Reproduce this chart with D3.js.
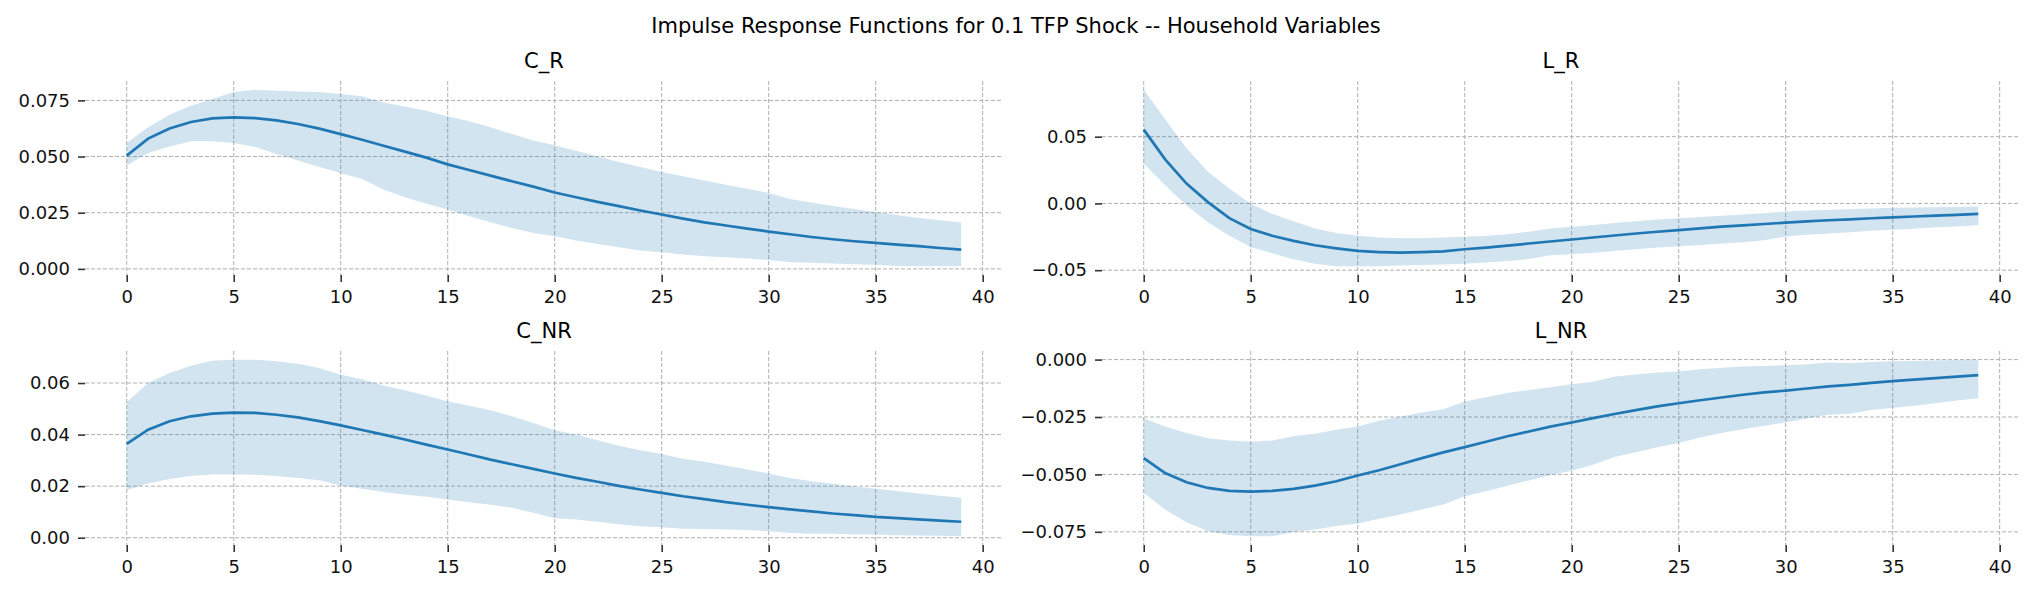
<!DOCTYPE html>
<html>
<head>
<meta charset="utf-8">
<script src="https://cdn.jsdelivr.net/npm/d3@7"></script>
<style>
  body { margin: 0; background: #fff; }
  svg { display: block; font-family: "DejaVu Sans", sans-serif; }
</style>
</head>
<body>
<svg id="chart" width="2032" height="592"></svg>
<script>
// periods after the shock
const periods = [0,1,2,3,4,5,6,7,8,9,10,11,12,13,14,15,16,17,18,19,20,21,22,23,24,25,26,27,28,29,30,31,32,33,34,35,36,37,38,39];

// C_R
const cR_mean  = [0.0504,0.0580,0.0625,0.0654,0.0670,0.0674,0.0671,0.0661,0.0645,0.0624,0.0600,0.0575,0.0548,0.0522,0.0495,0.0465,0.0440,0.0415,0.0390,0.0366,0.0340,0.0319,0.0298,0.0279,0.0260,0.0242,0.0224,0.0207,0.0193,0.0179,0.0166,0.0154,0.0142,0.0132,0.0123,0.0116,0.0108,0.0101,0.0093,0.0086];
const cR_upper = [0.0560,0.0630,0.0686,0.0726,0.0756,0.0787,0.0797,0.0793,0.0790,0.0787,0.0778,0.0768,0.0741,0.0723,0.0704,0.0679,0.0657,0.0630,0.0600,0.0571,0.0550,0.0526,0.0501,0.0476,0.0454,0.0431,0.0412,0.0393,0.0375,0.0357,0.0338,0.0311,0.0295,0.0280,0.0267,0.0253,0.0240,0.0227,0.0216,0.0206];
const cR_lower = [0.0460,0.0516,0.0545,0.0568,0.0568,0.0560,0.0542,0.0511,0.0482,0.0454,0.0427,0.0400,0.0353,0.0319,0.0290,0.0264,0.0234,0.0207,0.0182,0.0160,0.0145,0.0126,0.0111,0.0096,0.0082,0.0074,0.0064,0.0056,0.0052,0.0046,0.0039,0.0030,0.0027,0.0024,0.0021,0.0018,0.0013,0.0012,0.0012,0.0012];

// L_R
const lR_mean  = [0.0553,0.0330,0.0149,0.0010,-0.0110,-0.0192,-0.0242,-0.0280,-0.0313,-0.0336,-0.0356,-0.0364,-0.0369,-0.0364,-0.0359,-0.0343,-0.0331,-0.0316,-0.0300,-0.0285,-0.0270,-0.0255,-0.0240,-0.0225,-0.0212,-0.0200,-0.0187,-0.0174,-0.0164,-0.0154,-0.0144,-0.0134,-0.0126,-0.0119,-0.0111,-0.0104,-0.0098,-0.0091,-0.0086,-0.0078];
const lR_upper = [0.0851,0.0630,0.0414,0.0237,0.0111,-0.0003,-0.0078,-0.0134,-0.0187,-0.0222,-0.0242,-0.0255,-0.0260,-0.0260,-0.0255,-0.0250,-0.0242,-0.0230,-0.0212,-0.0187,-0.0174,-0.0162,-0.0146,-0.0134,-0.0121,-0.0111,-0.0101,-0.0093,-0.0083,-0.0073,-0.0061,-0.0053,-0.0048,-0.0043,-0.0038,-0.0033,-0.0030,-0.0028,-0.0026,-0.0023];
const lR_lower = [0.0300,0.0136,-0.0015,-0.0141,-0.0242,-0.0326,-0.0374,-0.0419,-0.0452,-0.0470,-0.0470,-0.0470,-0.0465,-0.0462,-0.0457,-0.0452,-0.0442,-0.0432,-0.0417,-0.0389,-0.0381,-0.0369,-0.0356,-0.0343,-0.0331,-0.0321,-0.0311,-0.0300,-0.0290,-0.0275,-0.0247,-0.0235,-0.0225,-0.0215,-0.0205,-0.0197,-0.0189,-0.0179,-0.0172,-0.0162];

// C_NR
const cNR_mean  = [0.0364,0.0419,0.0452,0.0471,0.0481,0.0485,0.0484,0.0477,0.0467,0.0452,0.0436,0.0418,0.0400,0.0381,0.0361,0.0342,0.0323,0.0303,0.0285,0.0267,0.0249,0.0232,0.0217,0.0201,0.0187,0.0174,0.0161,0.0150,0.0138,0.0128,0.0119,0.0110,0.0102,0.0094,0.0088,0.0081,0.0076,0.0071,0.0066,0.0062];
const cNR_upper = [0.0525,0.0600,0.0639,0.0667,0.0686,0.0690,0.0690,0.0684,0.0675,0.0658,0.0632,0.0615,0.0590,0.0572,0.0551,0.0529,0.0512,0.0494,0.0471,0.0445,0.0417,0.0400,0.0378,0.0357,0.0339,0.0325,0.0306,0.0295,0.0280,0.0265,0.0249,0.0232,0.0219,0.0209,0.0199,0.0190,0.0181,0.0172,0.0163,0.0155];
const cNR_lower = [0.0185,0.0210,0.0228,0.0239,0.0245,0.0245,0.0244,0.0239,0.0232,0.0223,0.0203,0.0190,0.0177,0.0168,0.0159,0.0148,0.0138,0.0128,0.0116,0.0097,0.0076,0.0071,0.0062,0.0052,0.0045,0.0041,0.0035,0.0034,0.0032,0.0030,0.0025,0.0018,0.0015,0.0015,0.0013,0.0013,0.0010,0.0009,0.0008,0.0006];

// L_NR
const lNR_mean  = [-0.0429,-0.0494,-0.0534,-0.0559,-0.0572,-0.0575,-0.0572,-0.0563,-0.0549,-0.0530,-0.0505,-0.0482,-0.0456,-0.0429,-0.0404,-0.0381,-0.0358,-0.0334,-0.0313,-0.0292,-0.0274,-0.0255,-0.0237,-0.0220,-0.0204,-0.0190,-0.0177,-0.0165,-0.0153,-0.0143,-0.0135,-0.0126,-0.0117,-0.0110,-0.0101,-0.0094,-0.0087,-0.0081,-0.0074,-0.0068];
const lNR_upper = [-0.0255,-0.0291,-0.0320,-0.0342,-0.0352,-0.0358,-0.0352,-0.0334,-0.0323,-0.0306,-0.0291,-0.0266,-0.0248,-0.0230,-0.0216,-0.0182,-0.0164,-0.0146,-0.0132,-0.0120,-0.0107,-0.0096,-0.0074,-0.0065,-0.0056,-0.0052,-0.0042,-0.0035,-0.0030,-0.0028,-0.0025,-0.0020,-0.0013,-0.0016,-0.0010,-0.0007,-0.0006,-0.0004,-0.0002,-0.0001];
const lNR_lower = [-0.0581,-0.0653,-0.0708,-0.0747,-0.0764,-0.0769,-0.0769,-0.0751,-0.0740,-0.0725,-0.0714,-0.0693,-0.0675,-0.0653,-0.0631,-0.0595,-0.0573,-0.0549,-0.0526,-0.0504,-0.0484,-0.0458,-0.0424,-0.0404,-0.0382,-0.0363,-0.0339,-0.0320,-0.0303,-0.0288,-0.0274,-0.0256,-0.0240,-0.0236,-0.0219,-0.0210,-0.0201,-0.0190,-0.0178,-0.0168];

const xTicks = [0,5,10,15,20,25,30,35,40];
const cR_ticks = [0, 0.025, 0.05, 0.075];
const lR_ticks = [-0.05, 0, 0.05];
const cNR_ticks = [0, 0.02, 0.04, 0.06];
const lNR_ticks = [-0.075, -0.05, -0.025, 0];

const suptitle = "Impulse Response Functions for 0.1 TFP Shock -- Household Variables";

const panels = [
  {name: "C_R",  mean: cR_mean,  lo: cR_lower,  hi: cR_upper,  ticks: cR_ticks,  dec: 3, col: 0, row: 0},
  {name: "L_R",  mean: lR_mean,  lo: lR_lower,  hi: lR_upper,  ticks: lR_ticks,  dec: 2, col: 1, row: 0},
  {name: "C_NR", mean: cNR_mean, lo: cNR_lower, hi: cNR_upper, ticks: cNR_ticks, dec: 2, col: 0, row: 1},
  {name: "L_NR", mean: lNR_mean, lo: lNR_lower, hi: lNR_upper, ticks: lNR_ticks, dec: 3, col: 1, row: 1}
];

const svg = d3.select("#chart");
const colLeft = [85, 1102], axW = 918;
const rowTop = [81, 351], axH = 194;
const blue = "#1f77b4";

svg.append("text")
  .attr("x", 1016).attr("y", 33)
  .attr("text-anchor", "middle")
  .attr("font-size", 21)
  .text(suptitle);

const fmtMinus = (v, d) => d3.format("." + d + "f")(v).replace("-", "\u2212");

panels.forEach(p => {
  const g = svg.append("g")
    .attr("transform", `translate(${colLeft[p.col]},${rowTop[p.row]})`);

  const x = d3.scaleLinear().domain([-1.95, 40.95]).range([0, axW]);
  const lo = d3.min(p.lo.concat(p.mean)), hi = d3.max(p.hi.concat(p.mean));
  const pad = (hi - lo) * 0.05;
  const y = d3.scaleLinear().domain([lo - pad, hi + pad]).range([axH, 0]);

  // grid
  g.append("g").selectAll("line").data(xTicks).join("line")
    .attr("x1", d => x(d)).attr("x2", d => x(d))
    .attr("y1", 0).attr("y2", axH)
    .attr("stroke", "#b0b0b0").attr("stroke-width", 1).attr("stroke-dasharray", "4,2");
  g.append("g").selectAll("line").data(p.ticks).join("line")
    .attr("x1", 0).attr("x2", axW)
    .attr("y1", d => y(d)).attr("y2", d => y(d))
    .attr("stroke", "#b0b0b0").attr("stroke-width", 1).attr("stroke-dasharray", "4,2");

  // band
  const area = d3.area()
    .x((d, i) => x(periods[i]))
    .y0((d, i) => y(p.lo[i]))
    .y1((d, i) => y(p.hi[i]));
  g.append("path").datum(p.mean).attr("d", area)
    .attr("fill", blue).attr("fill-opacity", 0.2);

  const line = d3.line().x((d, i) => x(periods[i])).y(d => y(d));
  g.append("path").datum(p.mean).attr("d", line)
    .attr("fill", "none").attr("stroke", blue).attr("stroke-width", 2.7);

  // axes
  const xAxis = d3.axisBottom(x).tickValues(xTicks).tickSize(7).tickPadding(8).tickFormat(d3.format("d"));
  const gx = g.append("g").attr("transform", `translate(0,${axH})`).call(xAxis);
  const yAxis = d3.axisLeft(y).tickValues(p.ticks).tickSize(7).tickPadding(8).tickFormat(d => fmtMinus(d, p.dec));
  const gy = g.append("g").call(yAxis);
  [gx, gy].forEach(a => {
    a.select(".domain").remove();
    a.selectAll(".tick line").attr("stroke", "#333").attr("stroke-width", 1.6);
    a.selectAll(".tick text").attr("font-size", 18).attr("fill", "#111")
      .attr("font-family", "DejaVu Sans");
  });

  g.append("text")
    .attr("x", axW / 2).attr("y", -13)
    .attr("text-anchor", "middle")
    .attr("font-size", 21)
    .text(p.name);
});
</script>
</body>
</html>
